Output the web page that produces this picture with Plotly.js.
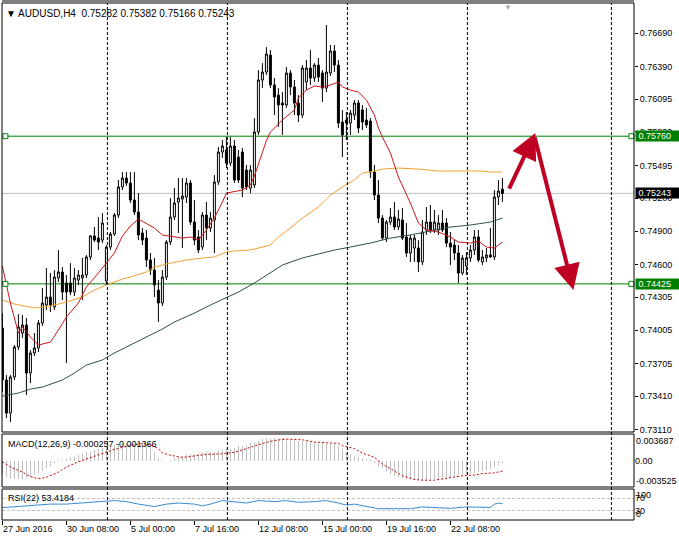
<!DOCTYPE html>
<html>
<head>
<meta charset="utf-8">
<script src="https://cdn.plot.ly/plotly-3.0.1.min.js"></script>
<style>html,body{margin:0;padding:0;background:#fff;}#chart{width:679px;height:541px;}</style>
</head>
<body>
<div id="chart"></div>
<script>
// ---------- DATA ----------
const symbolName = 'AUDUSD,H4';
const openP = [0.74026,0.73556,0.73257,0.73583,0.73854,0.73981,0.74053,0.73619,0.73800,0.73845,
0.74071,0.74234,0.74306,0.74216,0.74478,0.74532,0.74433,0.74433,0.74351,0.74460,
0.74478,0.74505,0.74668,0.74858,0.74839,0.74821,0.74451,0.74758,0.74876,0.75047,
0.75301,0.75382,0.75337,0.75183,0.75075,0.74885,0.74839,0.74641,0.74550,0.74369,
0.74252,0.74487,0.74803,0.75029,0.75165,0.75192,0.75210,0.75337,0.74984,0.74849,
0.74758,0.75047,0.74930,0.75002,0.75346,0.75617,0.75635,0.75517,0.75671,0.75572,
0.75617,0.75454,0.75291,0.75319,0.75798,0.76268,0.76340,0.76494,0.76223,0.76132,
0.76060,0.76042,0.76331,0.76205,0.76060,0.75951,0.76250,0.76376,0.76286,0.76403,
0.76331,0.76195,0.76331,0.76530,0.76403,0.75888,0.75906,0.75879,0.75951,0.76060,
0.75997,0.75906,0.75897,0.75436,0.75228,0.75020,0.74839,0.74984,0.75029,0.74939,
0.75002,0.74849,0.74704,0.74749,0.74749,0.74623,0.74912,0.74984,0.74912,0.74912,
0.74975,0.74975,0.74794,0.74776,0.74704,0.74523,0.74586,0.74659,0.74731,0.74849,
0.74623,0.74659,0.74686,0.74668,0.75210,0.75282];
const highP = [0.74161,0.73601,0.73601,0.73872,0.74152,0.74143,0.74116,0.73827,0.73981,0.74098,
0.74387,0.74568,0.74523,0.74550,0.74731,0.74577,0.74505,0.74613,0.74568,0.74550,
0.74659,0.74686,0.74867,0.74939,0.75029,0.75065,0.74776,0.74894,0.75065,0.75364,
0.75436,0.75436,0.75436,0.75436,0.75246,0.74930,0.74912,0.74704,0.74659,0.74460,
0.74550,0.74821,0.75201,0.75291,0.75382,0.75382,0.75382,0.75364,0.75183,0.74912,
0.75075,0.75165,0.75075,0.75409,0.75662,0.75725,0.75753,0.75753,0.75725,0.75635,
0.75653,0.75499,0.75499,0.75924,0.76358,0.76421,0.76566,0.76539,0.76286,0.76195,
0.76159,0.76385,0.76358,0.76268,0.76132,0.76403,0.76449,0.76539,0.76421,0.76467,
0.76358,0.76765,0.76584,0.76584,0.76449,0.75997,0.75979,0.75997,0.76087,0.76087,
0.76042,0.76015,0.75924,0.75499,0.75364,0.75047,0.75002,0.75111,0.75165,0.75093,
0.75111,0.74975,0.74867,0.74867,0.74821,0.75002,0.75120,0.75138,0.75093,0.75047,
0.75093,0.75020,0.74894,0.74821,0.74776,0.74686,0.74713,0.74776,0.74912,0.74912,
0.74731,0.74749,0.74930,0.75273,0.75364,0.75382];
const lowP = [0.73447,0.73212,0.73176,0.73556,0.73827,0.73935,0.73420,0.73529,0.73773,0.73809,
0.74044,0.74189,0.74171,0.74189,0.74442,0.74279,0.73709,0.74324,0.74315,0.74415,
0.74279,0.74478,0.74641,0.74803,0.74731,0.74794,0.74415,0.74731,0.74858,0.75020,
0.75273,0.75310,0.75156,0.75047,0.74821,0.74776,0.74577,0.74505,0.74306,0.74080,
0.74225,0.74460,0.74776,0.75002,0.74885,0.74749,0.75156,0.74957,0.74776,0.74704,
0.74731,0.74821,0.74894,0.74704,0.75319,0.75563,0.75472,0.75490,0.75337,0.75337,
0.75210,0.75273,0.75246,0.75291,0.75771,0.76195,0.76313,0.76195,0.75951,0.75843,
0.75771,0.76015,0.76132,0.75951,0.75888,0.75924,0.76177,0.76223,0.76250,0.76250,
0.76069,0.76159,0.76304,0.76340,0.75834,0.75572,0.75725,0.75771,0.75906,0.75789,
0.75816,0.75834,0.75382,0.75183,0.74975,0.74821,0.74803,0.74957,0.74912,0.74912,
0.74821,0.74668,0.74623,0.74623,0.74532,0.74595,0.74867,0.74885,0.74885,0.74867,
0.74894,0.74758,0.74595,0.74641,0.74433,0.74505,0.74505,0.74623,0.74686,0.74623,
0.74595,0.74623,0.74659,0.74641,0.75138,0.75166];
const closeP = [0.73556,0.73257,0.73583,0.73854,0.74035,0.74053,0.73619,0.73800,0.73845,0.74071,
0.74252,0.74306,0.74234,0.74487,0.74532,0.74351,0.74351,0.74351,0.74478,0.74505,
0.74505,0.74668,0.74858,0.74821,0.74803,0.74975,0.74758,0.74876,0.75047,0.75301,
0.75382,0.75337,0.75183,0.75075,0.74867,0.74821,0.74641,0.74550,0.74415,0.74252,
0.74487,0.74803,0.75029,0.75156,0.75201,0.75219,0.75337,0.74984,0.74821,0.74731,
0.75047,0.74930,0.75020,0.75346,0.75617,0.75671,0.75517,0.75671,0.75364,0.75364,
0.75291,0.75301,0.75454,0.75798,0.76268,0.76340,0.76503,0.76223,0.76114,0.76042,
0.76042,0.76331,0.76205,0.76060,0.75951,0.76376,0.76376,0.76286,0.76403,0.76295,
0.76195,0.76340,0.76530,0.76403,0.75879,0.75771,0.75879,0.75969,0.76060,0.75834,
0.75888,0.75861,0.75436,0.75228,0.75020,0.74839,0.74984,0.75029,0.74939,0.75011,
0.74839,0.74704,0.74839,0.74839,0.74623,0.74894,0.74984,0.74912,0.74984,0.74975,
0.74912,0.74794,0.74758,0.74704,0.74523,0.74659,0.74659,0.74731,0.74849,0.74641,
0.74668,0.74686,0.74668,0.75210,0.75264,0.75243];

// moving averages (bar index, price)
const maRedIdx = [0,2,4,5,7,9,10,12,14,16,19,21,24,26,28,30,32,34,38,40,43,45,47,49,51,53,55,56,60,62,63,64,65,66,67,70,73,74,76,78,80,82,84,85,87,89,91,93,94,95,97,99,102,104,106,109,112,114,117,119,121,123,124,125];
const maRedVal = [0.74586,0.74252,0.73981,0.74035,0.73945,0.73872,0.73881,0.73899,0.74008,0.74125,0.74252,0.74397,0.74523,0.74613,0.74704,0.74858,0.74948,0.75011,0.74930,0.74867,0.74849,0.74839,0.74849,0.74821,0.74912,0.75020,0.75165,0.75246,0.75273,0.75319,0.75400,0.75500,0.75620,0.75720,0.75798,0.75906,0.75997,0.76105,0.76177,0.76214,0.76205,0.76223,0.76250,0.76205,0.76177,0.76159,0.76087,0.75951,0.75834,0.75753,0.75608,0.75391,0.75156,0.74975,0.74912,0.74894,0.74849,0.74803,0.74794,0.74812,0.74758,0.74749,0.74776,0.74803];
const maOrangeIdx = [0,3,8,12,16,20,23,26,30,32,36,38,42,46,50,53,56,58,62,67,69,72,75,79,82,85,88,90,93,95,99,104,109,114,120,122,125];
const maOrangeVal = [0.74279,0.74243,0.74207,0.74225,0.74261,0.74306,0.74369,0.74415,0.74469,0.74487,0.74532,0.74577,0.74613,0.74641,0.74659,0.74668,0.74713,0.74722,0.74731,0.74776,0.74849,0.74930,0.75020,0.75120,0.75228,0.75301,0.75364,0.75427,0.75445,0.75463,0.75472,0.75463,0.75445,0.75445,0.75445,0.75436,0.75436];
const maSlateIdx = [0,4,7,10,15,18,21,25,28,32,40,43,48,52,56,59,63,67,70,75,79,83,87,92,97,102,107,112,117,122,125];
const maSlateVal = [0.73411,0.73438,0.73474,0.73492,0.73556,0.73619,0.73691,0.73737,0.73800,0.73872,0.74017,0.74080,0.74161,0.74234,0.74297,0.74351,0.74433,0.74523,0.74595,0.74659,0.74695,0.74731,0.74758,0.74794,0.74839,0.74867,0.74903,0.74939,0.74957,0.74984,0.75020];

// MACD(12,26,9): main (histogram, one per bar) and signal line
const macdMain = [-0.0019,-0.0022,-0.0024,-0.0025,-0.0024,-0.0024,-0.0023,-0.0022,-0.0019,-0.0016,
-0.0013,-0.0009,-0.0006,-0.0003,-0.0001,0.0001,0.0003,0.0005,0.0006,0.0008,
0.0010,0.0012,0.0013,0.0015,0.0016,0.0018,0.0019,0.0021,0.0022,0.0023,
0.0024,0.0024,0.0025,0.0025,0.0025,0.0024,0.0023,0.0019,0.0013,0.0004,
0.0001,0.0000,0.0002,0.0004,0.0005,0.0007,0.0008,0.0009,0.0010,0.0011,
0.0011,0.0012,0.0012,0.0013,0.0014,0.0015,0.0016,0.0017,0.0018,0.0020,
0.0021,0.0022,0.0024,0.0026,0.0028,0.0030,0.0031,0.0032,0.0032,0.0032,
0.0031,0.0030,0.0030,0.0029,0.0028,0.0028,0.0027,0.0026,0.0026,0.0025,
0.0024,0.0024,0.0023,0.0023,0.0021,0.0016,0.0012,0.0009,0.0007,0.0005,
0.0004,0.0003,0.0001,-0.0002,-0.0006,-0.0010,-0.0013,-0.0017,-0.0020,-0.0022,
-0.0023,-0.0024,-0.0025,-0.0026,-0.0026,-0.0026,-0.0026,-0.0025,-0.0024,-0.0024,
-0.0023,-0.0022,-0.0021,-0.0020,-0.0019,-0.0019,-0.0018,-0.0017,-0.0016,-0.0015,
-0.0014,-0.0012,-0.0011,-0.0008,-0.0005,-0.000257];
const macdSigIdx = [0,2,5,7,9,11,14,16,19,21,25,28,31,35,37,39,40,42,45,48,51,55,58,61,65,68,71,75,78,81,84,85,88,90,93,95,98,100,103,105,108,110,113,115,118,120,123,125];
const macdSigVal = [-0.0001,-0.0008,-0.0015,-0.0021,-0.0024,-0.0022,-0.0015,-0.0008,-0.0001,0.0003,0.0010,0.0016,0.0020,0.0024,0.0022,0.0017,0.0011,0.0008,0.0005,0.0007,0.0009,0.0010,0.0012,0.0017,0.0024,0.0028,0.0030,0.0029,0.0026,0.0025,0.0024,0.0021,0.0017,0.0011,0.0005,-0.0004,-0.0013,-0.0020,-0.0025,-0.0026,-0.0026,-0.0024,-0.0022,-0.0020,-0.0019,-0.0017,-0.0016,-0.001366];
const macdMax = 0.003687, macdMin = -0.003525;

// RSI(22)
const rsiIdx = [0,4,8,12,16,20,24,28,31,34,38,41,44,48,50,52,55,58,61,64,68,71,74,78,81,84,86,88,91,94,98,102,105,109,112,116,121,122,123,124,125];
const rsiVal = [40,43.3,47.9,51.3,51.3,54.7,57,62.7,59.3,51.3,43.3,51.3,54.7,51.3,45.6,51.3,62.7,59.3,54.7,62.7,59.3,62.7,57,59.3,62.7,54.7,47.9,51.3,43.3,36.5,36.5,36.5,42.2,39.9,37.6,42.2,39.9,40.5,51.3,53.9,53.4184];
const rsiLevels = [70, 30];

// price axis labels
const priceTicks = [0.76690,0.76390,0.76095,0.75800,0.75495,0.75200,0.74900,0.74600,0.74305,0.74005,0.73705,0.73410,0.73110];
// horizontal levels
const levels = [0.75760, 0.74425];
// time axis labels
const timeIdx = [0,16,32,48,64,80,96,112];
const timeLabels = ['27 Jun 2016','30 Jun 08:00','5 Jul 00:00','7 Jul 16:00','12 Jul 08:00','15 Jul 00:00','19 Jul 16:00','22 Jul 08:00'];
const gridIdx = [26.25,56.25,86.25,116.25,152.25];
// drawn arrows: [tailIdx, tailPrice, tipIdx, tipPrice]
const arrows = [[126.5,0.75273,133.25,0.75789],[133,0.75762,142.75,0.74369]];

// ---------- LAYOUT ----------
const W = 679, H = 541, mL = 2, mR = 45, mT = 3, mB = 21;
const plotH = H - mT - mB;
const py = px => (H - mB - px) / plotH; // pixel -> paper
const domMain = [py(432), 1], domMacd = [py(487), py(434)], domRsi = [0, py(489)];
const xRange = [-0.1, 157.9];
const FONT = 'Liberation Sans, Arial, sans-serif';
const GREEN = '#008000';

const idx = openP.map((_, i) => i);
const n = closeP.length;
const lastClose = closeP[n-1];

const traces = [
  { type:'candlestick', x: idx, open: openP, high: highP, low: lowP, close: closeP,
    xaxis:'x', yaxis:'y', whiskerwidth: 0, hoverinfo:'skip',
    increasing:{line:{color:'#000', width:1}, fillcolor:'#fff'},
    decreasing:{line:{color:'#000', width:1}, fillcolor:'#000'} },
  { type:'scatter', mode:'lines', x: maSlateIdx, y: maSlateVal, line:{color:'#2f4f4f', width:1}, hoverinfo:'skip' },
  { type:'scatter', mode:'lines', x: maOrangeIdx, y: maOrangeVal, line:{color:'#f0a030', width:1}, hoverinfo:'skip' },
  { type:'scatter', mode:'lines', x: maRedIdx, y: maRedVal, line:{color:'#d01515', width:1}, hoverinfo:'skip' },
  { type:'scatter', mode:'markers', x: [0.75, 0.75, 157.25, 157.25], y: [levels[0], levels[1], levels[0], levels[1]],
    marker:{symbol:'square', size:5, color:'#fff', line:{color:GREEN, width:1}}, hoverinfo:'skip', cliponaxis:false },
  { type:'bar', x: idx, y: macdMain, xaxis:'x', yaxis:'y2', width: 0.25, marker:{color:'#c0c0c0', line:{width:0}}, hoverinfo:'skip' },
  { type:'scatter', mode:'lines', x: macdSigIdx, y: macdSigVal, xaxis:'x', yaxis:'y2', line:{color:'#cc0000', width:1, dash:'2px,2px'}, hoverinfo:'skip' },
  { type:'scatter', mode:'lines', x: rsiIdx, y: rsiVal, xaxis:'x', yaxis:'y3', line:{color:'#3a8ad4', width:1}, hoverinfo:'skip' }
];

const shapes = [];
// panel frames
[domMain, domMacd, domRsi].forEach(d => shapes.push({type:'rect', xref:'paper', yref:'paper', x0:0, x1:1, y0:d[0], y1:d[1], line:{color:'#000', width:1}, layer:'above'}));
shapes.push({type:'line', xref:'paper', yref:'paper', x0:0, x1:1, y0:1+2/plotH, y1:1+2/plotH, line:{color:'#000', width:1}});
// vertical grid separators
gridIdx.forEach(g => shapes.push({type:'line', xref:'x', yref:'paper', x0:g, x1:g, y0:0, y1:1, line:{color:'#000', width:1, dash:'3px,2px'}, layer:'above'}));
// level lines and current price line
levels.forEach(l => shapes.push({type:'line', xref:'paper', yref:'y', x0:0, x1:1, y0:l, y1:l, line:{color:GREEN, width:1}, layer:'below'}));
shapes.push({type:'line', xref:'paper', yref:'y', x0:0, x1:1, y0:lastClose, y1:lastClose, line:{color:'#c0c0c0', width:1}, layer:'below'});

const annotations = [];
const f9 = {family: FONT, size: 9, color: '#000'};
annotations.push({xref:'paper', yref:'paper', x:0, y:1, xanchor:'left', yanchor:'top', xshift:2, yshift:-3, showarrow:false,
  text: '\u25BC ' + symbolName + '  ' + [openP[n-1], highP[n-1], lowP[n-1], closeP[n-1]].map(v => v.toFixed(5)).join(' '),
  font:{family: FONT, size: 10, color:'#000'}});
annotations.push({xref:'paper', yref:'paper', x:0, y:domMacd[1], xanchor:'left', yanchor:'top', xshift:4, yshift:-3, showarrow:false,
  text: 'MACD(12,26,9) ' + macdMain[n-1].toFixed(6) + ' ' + macdSigVal[macdSigVal.length-1].toFixed(6), font:f9});
annotations.push({xref:'paper', yref:'paper', x:0, y:domRsi[1], xanchor:'left', yanchor:'top', xshift:4, yshift:-2, showarrow:false,
  text: 'RSI(22) ' + rsiVal[rsiVal.length-1].toFixed(4), font:f9});
// time labels
timeIdx.forEach((t, k) => annotations.push({xref:'x', yref:'paper', x:t, y:0, xanchor:'left', yanchor:'top', xshift:-1, yshift:-2, showarrow:false, text: timeLabels[k], font:f9}));
// MACD scale extremes
annotations.push({xref:'paper', yref:'y2', x:1, y:macdMax, xanchor:'left', yanchor:'middle', xshift:0, yshift:-7, showarrow:false, text: macdMax.toFixed(6), font:f9});
annotations.push({xref:'paper', yref:'y2', x:1, y:macdMin, xanchor:'left', yanchor:'middle', xshift:0, yshift:6, showarrow:false, text: macdMin.toFixed(6), font:f9});
// RSI scale extremes
annotations.push({xref:'paper', yref:'y3', x:1, y:100, xanchor:'left', yanchor:'middle', xshift:0, yshift:-6, showarrow:false, text:'100', font:f9});
annotations.push({xref:'paper', yref:'y3', x:1, y:0, xanchor:'left', yanchor:'middle', xshift:0, yshift:6, showarrow:false, text:'0', font:f9});
// price boxes
levels.forEach(l => annotations.push({xref:'paper', yref:'y', x:1, y:l, xanchor:'left', yanchor:'middle', xshift:1, showarrow:false,
  text: '&nbsp;' + l.toFixed(5) + '&nbsp;&nbsp;&nbsp;', bgcolor: GREEN, borderpad:0, font:{family:FONT, size:9, color:'#fff'}}));
annotations.push({xref:'paper', yref:'y', x:1, y:lastClose, xanchor:'left', yanchor:'middle', xshift:1, showarrow:false,
  text: '&nbsp;' + lastClose.toFixed(5) + '&nbsp;&nbsp;&nbsp;', bgcolor: '#000', borderpad:0, font:{family:FONT, size:9, color:'#fff'}});
// chart shift marker
annotations.push({xref:'x', yref:'paper', x:126.5, y:1, xanchor:'center', yanchor:'top', yshift:2, showarrow:false, text:'\u25BC', font:{family:FONT, size:8, color:'#b0b0b0'}});
// red arrows
arrows.forEach(a => annotations.push({xref:'x', yref:'y', axref:'x', ayref:'y', x:a[2], y:a[3], ax:a[0], ay:a[1], text:'', showarrow:true,
  arrowhead:2, arrowsize:1.3, arrowwidth:4, arrowcolor:'#bf0022', standoff:0, startstandoff:0}));

const layout = {
  width: W, height: H, margin:{l:mL, r:mR, t:mT, b:mB, pad:0},
  paper_bgcolor:'#fff', plot_bgcolor:'#fff', showlegend:false, hovermode:false,
  font:{family: FONT, size: 9, color:'#000'},
  bargap: 0,
  xaxis:{domain:[0,1], range:xRange, anchor:'y3', showgrid:false, zeroline:false, showline:false,
    tickvals: timeIdx, showticklabels:false, ticks:'outside', ticklen:4, tickcolor:'#000', tickwidth:1,
    rangeslider:{visible:false}, fixedrange:true},
  yaxis:{domain:domMain, range:[0.73086, 0.76964], side:'right', anchor:'x', showgrid:false, zeroline:false, showline:false,
    tickvals: priceTicks, ticktext: priceTicks.map(v => v.toFixed(5)), ticks:'outside', ticklen:3, tickcolor:'#000',
    tickfont:f9, fixedrange:true},
  yaxis2:{domain:domMacd, range:[macdMin, macdMax], side:'right', anchor:'x', showgrid:false, zeroline:false, showline:false,
    tickvals:[0], ticktext:['0.00'], ticks:'', tickfont:f9, fixedrange:true},
  yaxis3:{domain:domRsi, range:[0,100], side:'right', anchor:'x', showgrid:true, gridcolor:'#c0c0c0', griddash:'3px,2px',
    zeroline:false, showline:false, tickvals: rsiLevels, ticktext: rsiLevels.map(String), ticks:'', tickfont:f9, fixedrange:true},
  shapes: shapes, annotations: annotations
};

Plotly.newPlot('chart', traces, layout, {displayModeBar:false, staticPlot:true});
</script>
</body>
</html>
